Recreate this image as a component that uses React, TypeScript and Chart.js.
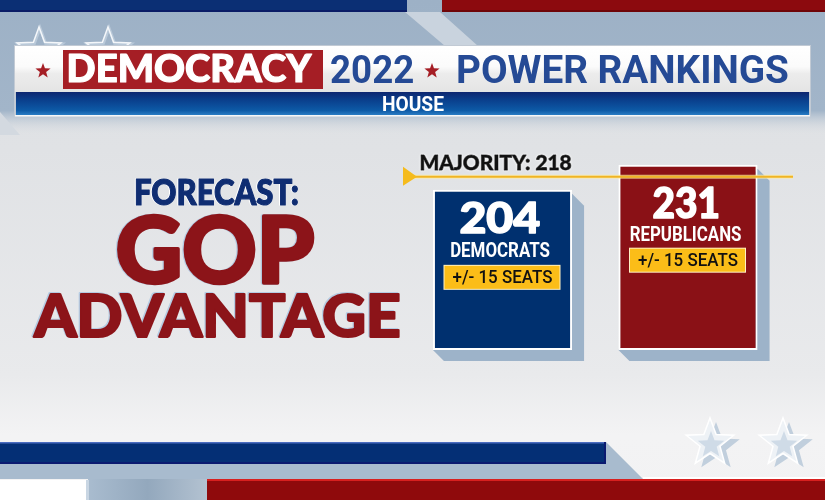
import React, { useEffect, useRef } from "react";
import { Chart, registerables } from "chart.js";

Chart.register(...registerables);

// ---------- data ----------
const parties = ["DEMOCRATS", "REPUBLICANS"];
const seats = [204, 231];
const margins = ["+/- 15 SEATS", "+/- 15 SEATS"];
const partyColors = ["#00306f", "#8a1116"];
const majority = 218;
const majorityLabel = "MAJORITY: " + majority;
const axisMin = 32;
const axisMax = 250;
const titleWord = "DEMOCRACY";
const titleYear = "2022";
const titleRest = "POWER RANKINGS";
const subTitle = "HOUSE";
const forecastLines = ["FORECAST:", "GOP", "ADVANTAGE"];

const HEAVY = '"Lato", "Open Sans", "DejaVu Sans", sans-serif';
const COND = 'Roboto, "Open Sans", "Liberation Sans", sans-serif';

type FitOpts = {
  x: number;
  align: "left" | "center";
  base: number;
  cap: number;
  w?: number;
  family: string;
  weight: string | number;
  color: string;
  under?: { color: string; dx: number; dy: number };
  glow?: string;
  embolden?: number;
};

function drawFit(ctx: CanvasRenderingContext2D, text: string, o: FitOpts) {
  ctx.save();
  ctx.font = `${o.weight} 100px ${o.family}`;
  const capRef = ctx.measureText("H").actualBoundingBoxAscent || 72;
  const e = o.embolden || 0;
  const size = ((o.cap - e) / capRef) * 100;
  ctx.font = `${o.weight} ${size}px ${o.family}`;
  ctx.textAlign = "left";
  ctx.textBaseline = "alphabetic";
  ctx.lineJoin = "round";
  const m = ctx.measureText(text);
  const inkL = m.actualBoundingBoxLeft;
  const inkW = m.actualBoundingBoxLeft + m.actualBoundingBoxRight;
  const sx = o.w ? (o.w - e) / inkW : 1;
  const fw = inkW * sx;
  const left = (o.align === "center" ? o.x - fw / 2 : o.x) + e / 2;
  ctx.translate(left, o.base - e / 2);
  ctx.scale(sx, 1);
  if (o.under) {
    ctx.fillStyle = o.under.color;
    ctx.fillText(text, inkL + o.under.dx / sx, o.under.dy);
    if (e) {
      ctx.strokeStyle = o.under.color;
      ctx.lineWidth = e;
      ctx.strokeText(text, inkL + o.under.dx / sx, o.under.dy);
    }
  }
  if (o.glow) {
    ctx.shadowColor = o.glow;
    ctx.shadowBlur = 3;
  }
  ctx.fillStyle = o.color;
  if (e) {
    ctx.strokeStyle = o.color;
    ctx.lineWidth = e;
    ctx.strokeText(text, inkL, 0);
  }
  ctx.fillText(text, inkL, 0);
  ctx.restore();
}

function starPath(ctx: CanvasRenderingContext2D, cx: number, cy: number, ro: number, ri: number) {
  ctx.beginPath();
  for (let i = 0; i < 10; i++) {
    const r = i % 2 === 0 ? ro : ri;
    const a = -Math.PI / 2 + (i * Math.PI) / 5;
    const px = cx + r * Math.cos(a);
    const py = cy + r * Math.sin(a);
    if (i === 0) ctx.moveTo(px, py);
    else ctx.lineTo(px, py);
  }
  ctx.closePath();
}

function poly(ctx: CanvasRenderingContext2D, pts: number[][], fill: string | CanvasGradient) {
  ctx.beginPath();
  pts.forEach((p, i) => (i ? ctx.lineTo(p[0], p[1]) : ctx.moveTo(p[0], p[1])));
  ctx.closePath();
  ctx.fillStyle = fill;
  ctx.fill();
}

const backgroundPlugin = {
  id: "broadcastBackground",
  beforeDraw(chart: any) {
    const ctx: CanvasRenderingContext2D = chart.ctx;
    const W = chart.width;
    const H = chart.height;
    ctx.save();
    // base background
    const g = ctx.createLinearGradient(0, 0, 0, H);
    g.addColorStop(0, "#dcdfe3");
    g.addColorStop(0.3, "#e0e2e5");
    g.addColorStop(0.75, "#e9eaec");
    g.addColorStop(0.87, "#f3f3f4");
    g.addColorStop(1, "#f2f2f3");
    ctx.fillStyle = g;
    ctx.fillRect(0, 0, W, H);

    // top bluish band
    const tb = ctx.createLinearGradient(0, 0, 0, 135);
    tb.addColorStop(0, "#9db1c6");
    tb.addColorStop(0.82, "#a2b5c9");
    tb.addColorStop(1, "rgba(220,223,227,0)");
    ctx.fillStyle = tb;
    ctx.fillRect(0, 0, W, 135);
    poly(ctx, [[405, 12], [440, 12], [478, 46], [445, 46]], "#c9d3de");
    poly(ctx, [[0, 112], [20, 135], [0, 135]], "#d3d9e0");

    // top stripes
    ctx.fillStyle = "#0b2f74";
    ctx.fillRect(0, 0, 407, 12);
    ctx.fillStyle = "#0a1c66";
    ctx.fillRect(0, 10, 407, 2);
    ctx.fillStyle = "#8c0a0e";
    ctx.fillRect(442, 0, W - 442, 12);
    ctx.fillStyle = "#6e0508";
    ctx.fillRect(442, 10, W - 442, 2);

    // top-left outline stars
    [39, 108].forEach((cx) => {
      ctx.lineWidth = 3;
      ctx.strokeStyle = "#b9c9d9";
      starPath(ctx, cx + 1, 51, 23, 9.5);
      ctx.stroke();
      ctx.lineWidth = 1.5;
      ctx.strokeStyle = "#f4f7fa";
      starPath(ctx, cx, 50, 23, 9.5);
      ctx.stroke();
    });

    // banner
    ctx.fillStyle = "#c2cad4";
    ctx.fillRect(14, 45, 797, 72);
    const bg = ctx.createLinearGradient(0, 46, 0, 92);
    bg.addColorStop(0, "#ffffff");
    bg.addColorStop(0.45, "#fbfbfb");
    bg.addColorStop(0.6, "#ececec");
    bg.addColorStop(1, "#e4e4e4");
    ctx.fillStyle = bg;
    ctx.fillRect(15, 46, 795, 46);
    const hb = ctx.createLinearGradient(0, 92, 0, 115);
    hb.addColorStop(0, "#0e2670");
    hb.addColorStop(0.35, "#0a3f8c");
    hb.addColorStop(0.8, "#0d5aa6");
    hb.addColorStop(1, "#2a7cc4");
    ctx.fillStyle = hb;
    ctx.fillRect(16, 92, 793, 23);
    ctx.fillStyle = "#f4f6f8";
    ctx.fillRect(15, 115, 795, 1.5);

    ctx.fillStyle = "#a51e25";
    ctx.fillRect(63, 50, 260, 39);
    starPath(ctx, 43, 71, 8, 3.3);
    ctx.fill();
    starPath(ctx, 432, 71, 8, 3.3);
    ctx.fill();

    drawFit(ctx, titleWord, { x: 68, align: "left", base: 83, cap: 29, w: 245, family: HEAVY, weight: 900, color: "#ffffff", embolden: 1.2 });
    drawFit(ctx, titleYear, { x: 331, align: "left", base: 83, cap: 28, w: 82, family: COND, weight: 700, color: "#254a95" });
    drawFit(ctx, titleRest, { x: 458, align: "left", base: 83, cap: 28, w: 330, family: COND, weight: 700, color: "#254a95" });
    drawFit(ctx, subTitle, { x: 413.5, align: "center", base: 111, cap: 14, w: 61, family: COND, weight: 700, color: "#ffffff" });

    // forecast text
    drawFit(ctx, forecastLines[0], { x: 135, align: "left", base: 206, cap: 28, w: 163, family: HEAVY, weight: 900, color: "#0f2d72", under: { color: "#ffffff", dx: -1, dy: -0.5 }, embolden: 1.2 });
    drawFit(ctx, forecastLines[1], { x: 117, align: "left", base: 285, cap: 70, w: 198, family: HEAVY, weight: 900, color: "#8c1419", under: { color: "#b5cce3", dx: -1.2, dy: -0.5 }, embolden: 3.5 });
    drawFit(ctx, forecastLines[2], { x: 32, align: "left", base: 338, cap: 45, w: 368, family: HEAVY, weight: 900, color: "#8c1419", under: { color: "#b5cce3", dx: -1.2, dy: -0.5 }, embolden: 2.2 });

    // bottom decorations
    poly(ctx, [[606, 442], [643, 479], [0, 479], [0, 464]], "#a8bbce");
    ctx.fillStyle = "#042f75";
    ctx.fillRect(0, 442, 606, 22);
    ctx.fillStyle = "#4a6cc0";
    ctx.fillRect(0, 442, 606, 1.5);
    ctx.fillStyle = "#0a1a70";
    ctx.fillRect(0, 462, 606, 2);
    ctx.fillRect(604, 442, 2, 22);

    const gap = ctx.createLinearGradient(88, 0, 207, 0);
    gap.addColorStop(0, "#a9bccf");
    gap.addColorStop(0.5, "#93a8bd");
    gap.addColorStop(1, "#b3c2d1");
    ctx.fillStyle = gap;
    ctx.fillRect(88, 479, 119, 21);
    ctx.fillStyle = "#ffffff";
    ctx.fillRect(0, 480, 86, 20);
    ctx.fillStyle = "#c9d6e3";
    ctx.fillRect(86, 480, 3, 20);
    ctx.fillStyle = "#8f0a0c";
    ctx.fillRect(207, 479, W - 207, 21);
    ctx.fillStyle = "#d8201f";
    ctx.fillRect(207, 479, W - 207, 2);
    ctx.fillStyle = "#ffffff";
    ctx.fillRect(643, 477, W - 643, 2);

    // bottom-right stars
    [710, 783].forEach((cx) => {
      ctx.fillStyle = "#c1cfdd";
      starPath(ctx, cx + 6, 447, 25, 10.5);
      ctx.fill();
      ctx.fillStyle = "#eef2f6";
      starPath(ctx, cx, 443, 25, 10.5);
      ctx.fill();
      ctx.lineWidth = 1.5;
      ctx.strokeStyle = "#ffffff";
      ctx.stroke();
      ctx.fillStyle = "#cfdbe7";
      starPath(ctx, cx + 1, 445, 14, 6);
      ctx.fill();
    });
    ctx.restore();
  },
};

const barShadowPlugin = {
  id: "barShadows",
  beforeDatasetsDraw(chart: any) {
    const ctx: CanvasRenderingContext2D = chart.ctx;
    const meta = chart.getDatasetMeta(0);
    ctx.save();
    meta.data.forEach((el: any) => {
      const { x, y, base, width } = el.getProps(["x", "y", "base", "width"], true);
      const L = x - width / 2;
      const R = x + width / 2;
      poly(ctx, [[R, y + 4], [R + 12, y + 16], [R + 12, base + 11], [L + 11, base + 11], [L, base]], "#9db3c9");
    });
    ctx.restore();
  },
};

const overlayPlugin = {
  id: "overlay",
  afterDatasetsDraw(chart: any) {
    const ctx: CanvasRenderingContext2D = chart.ctx;
    const yScale = chart.scales.y;
    const my = yScale.getPixelForValue(majority);
    ctx.save();
    // majority line
    ctx.strokeStyle = "rgba(255,236,160,0.7)";
    ctx.lineWidth = 4;
    ctx.beginPath();
    ctx.moveTo(410, my);
    ctx.lineTo(793, my);
    ctx.stroke();
    ctx.strokeStyle = "#f0b424";
    ctx.lineWidth = 2;
    ctx.beginPath();
    ctx.moveTo(410, my);
    ctx.lineTo(793, my);
    ctx.stroke();
    poly(ctx, [[403, my - 10], [403, my + 9], [417, my]], "#f5bb1c");
    drawFit(ctx, majorityLabel, { x: 420, align: "left", base: my - 6.5, cap: 16, w: 152, family: HEAVY, weight: 900, color: "#111111", glow: "rgba(255,255,255,0.95)", embolden: 0.8 });

    // bar labels
    const meta = chart.getDatasetMeta(0);
    const offs = [
      { n: 44, l: 67, b: 76 },
      { n: 54, l: 76, b: 84 },
    ];
    const numW = [81, 66];
    const labW = [99, 111];
    meta.data.forEach((el: any, i: number) => {
      const { x, y } = el.getProps(["x", "y"], true);
      const o = offs[i];
      drawFit(ctx, String(seats[i]), { x: x - 3, align: "center", base: y + o.n, cap: 32, w: numW[i], family: HEAVY, weight: 900, color: "#ffffff", embolden: 1.5 });
      drawFit(ctx, parties[i], { x: x - 2, align: "center", base: y + o.l, cap: 14, w: labW[i], family: COND, weight: 700, color: "#ffffff" });
      const bx = x - 58;
      const by = y + o.b;
      ctx.fillStyle = "#fff1c4";
      ctx.fillRect(bx - 1, by - 1, 117, 25);
      ctx.fillStyle = "#fbbd18";
      ctx.fillRect(bx, by, 115, 23);
      drawFit(ctx, margins[i], { x: x, align: "center", base: by + 17.5, cap: 13, w: 100, family: COND, weight: 500, color: "#111111" });
    });
    ctx.restore();
  },
};

export default function App() {
  const ref = useRef<HTMLCanvasElement | null>(null);
  useEffect(() => {
    if (!ref.current) return;
    const chart = new Chart(ref.current, {
      type: "bar",
      data: {
        labels: parties,
        datasets: [
          {
            data: seats,
            base: axisMin,
            backgroundColor: partyColors,
            borderColor: "#ffffff",
            borderWidth: 2,
            borderSkipped: false,
            barPercentage: 0.75,
            categoryPercentage: 1,
          },
        ],
      },
      options: {
        responsive: false,
        animation: false,
        devicePixelRatio: 1,
        layout: { padding: { left: 409.75, right: 44.25, top: 147, bottom: 150 } },
        scales: {
          x: { display: false },
          y: { display: false, min: axisMin, max: axisMax },
        },
        plugins: { legend: { display: false }, tooltip: { enabled: false } },
      },
      plugins: [backgroundPlugin, barShadowPlugin, overlayPlugin],
    });
    return () => chart.destroy();
  }, []);
  return (
    <div style={{ position: "fixed", left: 0, top: 0, width: 825, height: 500 }}>
      <canvas ref={ref} width={825} height={500} />
    </div>
  );
}
